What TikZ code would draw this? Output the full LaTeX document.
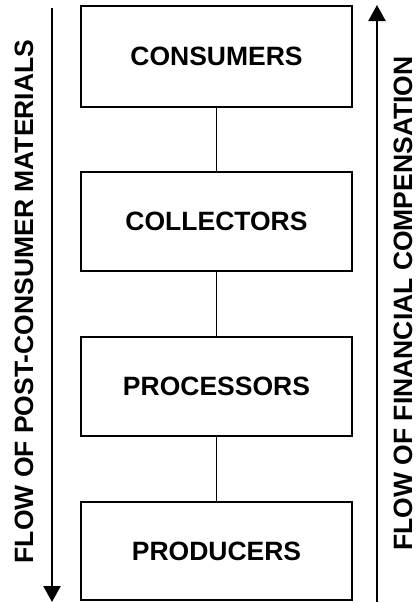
\documentclass[tikz,border=0pt]{standalone}
\usepackage{fontspec}
\setmainfont{Liberation Sans}
\usetikzlibrary{arrows.meta}
\begin{document}
\begin{tikzpicture}[x=1pt,y=-1pt,
  box/.style={draw=black,line width=2pt,fill=white,inner sep=0pt,minimum width=271pt},
  lbl/.style={font=\fontsize{26.5}{30}\selectfont\bfseries},
  link/.style={line width=1pt},
  flow/.style={line width=2.3pt,-{Triangle[length=16pt,width=17pt]}},
  side/.style={font=\fontsize{26.5}{30}\selectfont\bfseries,rotate=90,anchor=base,inner sep=0pt}]
\useasboundingbox[fill=white] (0,0) rectangle (418,603);
\node[box,lbl,minimum height=101pt] (cons) at (216.5,56.5) {CONSUMERS};
\node[box,lbl,minimum height=99pt] (coll) at (216.5,221.5) {COLLECTORS};
\node[box,lbl,minimum height=99pt] (proc) at (216.5,386.5) {PROCESSORS};
\node[box,lbl,minimum height=98pt] (prod) at (216.5,551) {PRODUCERS};
\draw[link] (cons.south) -- (coll.north);
\draw[link] (coll.south) -- (proc.north);
\draw[link] (proc.south) -- (prod.north);
\coordinate (l1) at (52,8);
\coordinate (l2) at (52,602);
\coordinate (r1) at (377,602);
\coordinate (r2) at (377,5);
\draw[flow] (l1) -- (l2);
\draw[flow] (r1) -- (r2);
\node[side] (ltext) at (33,301.5) {FLOW OF POST-CONSUMER MATERIALS};
\node[side] (rtext) at (412,303.5) {FLOW OF FINANCIAL COMPENSATION};
\end{tikzpicture}
\end{document}
